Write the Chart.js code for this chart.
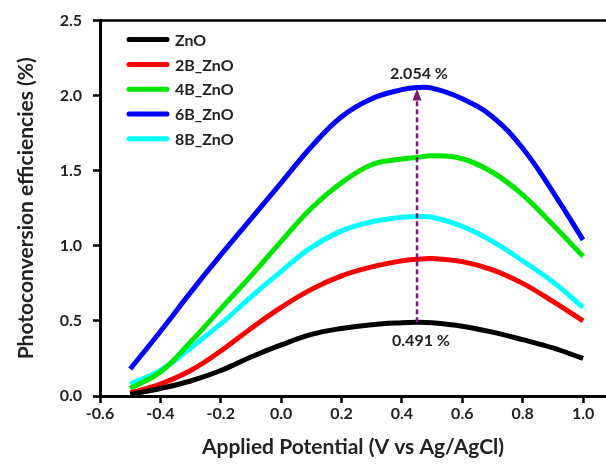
<!DOCTYPE html>
<html><head><meta charset="utf-8">
<script src="https://cdn.jsdelivr.net/npm/chart.js@4/dist/chart.umd.min.js"></script>
<style>html,body{margin:0;padding:0;background:#fff}#wrap{width:606px;height:465px}</style>
</head><body><div id="wrap"><canvas id="c" width="606" height="465"></canvas></div>
<script>
const potential = [-0.5,-0.4,-0.3,-0.2,-0.1,0.0,0.1,0.2,0.3,0.4,0.45,0.5,0.6,0.7,0.8,0.9,1.0];
const zno   = [0.01,0.05,0.10,0.17,0.26,0.34,0.41,0.45,0.475,0.488,0.491,0.488,0.465,0.425,0.375,0.32,0.25];
const b2zno = [0.02,0.08,0.17,0.30,0.45,0.59,0.71,0.80,0.86,0.90,0.91,0.915,0.895,0.84,0.75,0.63,0.50];
const b4zno = [0.05,0.16,0.36,0.58,0.80,1.03,1.25,1.42,1.54,1.578,1.588,1.60,1.58,1.49,1.34,1.14,0.93];
const b6zno = [0.18,0.43,0.69,0.94,1.18,1.42,1.66,1.86,1.98,2.04,2.054,2.05,1.98,1.86,1.65,1.36,1.04];
const b8zno = [0.08,0.17,0.32,0.48,0.66,0.83,0.99,1.10,1.16,1.19,1.195,1.19,1.13,1.03,0.90,0.76,0.59];
const seriesNames = ['ZnO','2B_ZnO','4B_ZnO','6B_ZnO','8B_ZnO'];
const seriesValues = [zno,b2zno,b4zno,b6zno,b8zno];
const seriesColors = ['#000000','#ff0000','#00e600','#0000ff','#00ffff'];
const xTicks = [-0.6,-0.4,-0.2,0.0,0.2,0.4,0.6,0.8,1.0];
const yTicks = [0.0,0.5,1.0,1.5,2.0,2.5];
const peakPotential = 0.45;
const peakLow = 0.491;
const peakHigh = 2.054;
const peakHighLabel = '2.054 %';
const peakLowLabel = '0.491 %';
const xTitle = 'Applied Potential (V vs Ag/AgCl)';
const yTitle = 'Photoconversion efficiencies (%)';

const FONT = 'Lato, "Open Sans", sans-serif';
const TXT = '#222';

const datasets = seriesNames.map((n,i)=>({
  label:n,
  data: potential.map((x,j)=>({x:x,y:seriesValues[i][j]})),
  borderColor: seriesColors[i],
  backgroundColor: seriesColors[i],
  borderWidth: 5,
  pointRadius: 0,
  tension: 0.4,
  fill:false
}));

const extras = {
  id:'extras',
  afterDatasetsDraw(chart){
    const ctx = chart.ctx, ca = chart.chartArea;
    const xs = chart.scales.x, ys = chart.scales.y;
    ctx.save();
    // top border
    ctx.strokeStyle = '#000'; ctx.lineWidth = 2.5;
    ctx.beginPath(); ctx.moveTo(ca.left, ca.top); ctx.lineTo(ca.right, ca.top); ctx.stroke();
    // arrow
    const px = xs.getPixelForValue(peakPotential);
    const yl = ys.getPixelForValue(peakLow);
    const yh = ys.getPixelForValue(peakHigh);
    ctx.strokeStyle = '#7b1a7b'; ctx.fillStyle = '#7b1a7b';
    ctx.lineWidth = 2.5; ctx.setLineDash([5,3]);
    ctx.beginPath(); ctx.moveTo(px, yl); ctx.lineTo(px, yh + 10); ctx.stroke();
    ctx.setLineDash([]);
    ctx.beginPath(); ctx.moveTo(px, yh + 1); ctx.lineTo(px - 4.5, yh + 13); ctx.lineTo(px + 4.5, yh + 13); ctx.closePath(); ctx.fill();
    // labels
    ctx.fillStyle = TXT; ctx.font = 'bold 16px ' + FONT;
    ctx.textAlign = 'center'; ctx.textBaseline = 'middle';
    ctx.fillText(peakHighLabel, px + 2, yh - 14);
    ctx.fillText(peakLowLabel, px + 4, yl + 19);
    // legend
    chart.data.datasets.forEach((d,i)=>{
      const y = ca.top + 19 + i*24.8;
      ctx.strokeStyle = d.borderColor; ctx.lineWidth = 5; ctx.lineCap = 'round';
      ctx.beginPath(); ctx.moveTo(ca.left + 29, y); ctx.lineTo(ca.left + 67, y); ctx.stroke();
      ctx.fillStyle = TXT; ctx.textAlign = 'left';
      ctx.fillText(d.label, ca.left + 75, y + 1);
    });
    ctx.restore();
  }
};

new Chart(document.getElementById('c'), {
  type:'line',
  data:{datasets},
  options:{
    responsive:false, animation:false,
    layout:{padding:{top:19,right:0,left:0,bottom:0}},
    plugins:{legend:{display:false}, tooltip:{enabled:false}},
    scales:{
      x:{
        type:'linear', min:-0.6, max:1.076,
        afterBuildTicks:s=>{s.ticks = xTicks.map(v=>({value:v}));},
        afterFit:s=>{s.height = 69;},
        ticks:{callback:v=>Number(v).toFixed(1), font:{family:FONT,size:16,weight:'bold'}, color:TXT, padding:1, maxRotation:0, autoSkip:false},
        grid:{drawOnChartArea:false, drawTicks:true, tickLength:7, tickWidth:2.5, tickColor:'#000'},
        border:{color:'#000', width:3},
        title:{display:true, text:xTitle, font:{family:FONT,size:21,weight:'bold'}, color:TXT, padding:{top:0,bottom:5}}
      },
      y:{
        type:'linear', min:0, max:2.5,
        afterBuildTicks:s=>{s.ticks = yTicks.map(v=>({value:v}));},
        afterFit:s=>{s.width = 100;},
        ticks:{callback:v=>Number(v).toFixed(1), font:{family:FONT,size:16,weight:'bold'}, color:TXT, padding:11},
        grid:{drawOnChartArea:false, drawTicks:true, tickLength:7, tickWidth:2.5, tickColor:'#000'},
        border:{color:'#000', width:3},
        title:{display:true, text:yTitle, font:{family:FONT,size:21,weight:'bold'}, color:TXT, padding:{top:14,bottom:0}}
      }
    }
  },
  plugins:[extras]
});
</script>
</body></html>
